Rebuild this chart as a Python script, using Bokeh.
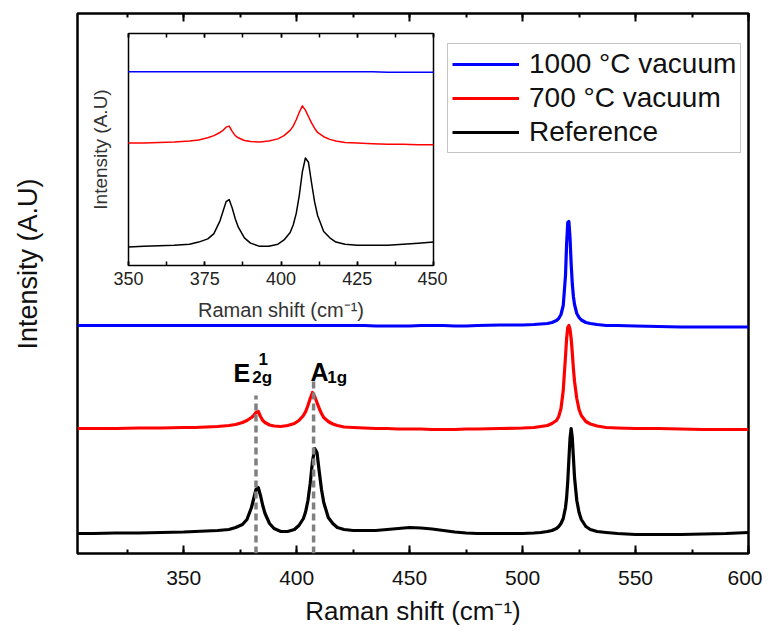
from bokeh.plotting import figure
from bokeh.models import (SingleIntervalTicker, FixedTicker, LinearAxis, Legend, LegendItem,
                          Range1d, Title, GridBox, ColumnDataSource, CustomJSTickFormatter)
from bokeh.core.properties import value
from bokeh.embed import file_html
from bokeh.resources import INLINE

FONT = "Liberation Sans"

# ---------------- data ----------------
raman_shift = [303, 310, 320, 330, 340, 350, 355, 360, 365, 370,
               373, 376, 378, 380, 381, 382, 383, 384, 385, 386,
               388, 390, 393, 396, 399, 401, 403, 404, 405, 406,
               407, 408, 409, 410, 411, 412, 414, 416, 418, 421,
               425, 430, 435, 440, 445, 450, 455, 460, 465, 470,
               475, 480, 490, 500, 505, 508, 511, 513, 515, 516,
               517, 518, 519, 519.5, 520, 520.5, 521, 521.5, 522, 522.5,
               523, 524, 525, 526, 528, 530, 533, 537, 542, 550,
               560, 570, 580, 590, 600]

reference = [0, 0, 0.5, 0.5, 1, 1.5, 2, 2.5, 3, 4,
             6, 9, 14, 26, 35, 44, 46, 38, 28, 20,
             10, 5, 2, 2, 4, 8, 15, 22, 33, 50,
             72, 85, 81, 62, 44, 31, 16, 10, 6, 4,
             3, 3, 3, 4, 5, 6, 5.5, 4.5, 3, 1.5,
             0.5, 0, 0, 0, 0.5, 1, 2, 3, 5, 7,
             10, 15, 26, 36, 52, 74, 95, 105, 96, 76,
             56, 33, 21, 14, 7, 4, 2, 1, 0, -1,
             -1, -1, -0.5, 0, 1]

vacuum_700 = [0, 0, 0, 0.5, 0.5, 1, 1, 1.5, 2, 3,
              4, 6, 8, 11, 13, 16, 17, 12, 8, 6,
              3.5, 2.5, 2, 3, 5, 8, 13, 17, 23, 30,
              36, 32, 26, 20, 15, 11, 7, 4.5, 3, 1.5,
              1, 0.5, 0, 0, -0.5, -0.5, -0.5, -1, -1, -1,
              -0.5, -0.5, 0, 0.5, 1, 2, 3, 5, 8, 12,
              20, 38, 72, 90, 101, 103, 99, 90, 76, 60,
              47, 30, 19, 13, 7, 4.5, 2.5, 1, 0.5, 0,
              0, -0.5, -1, -1, -1]

vacuum_1000 = [0, 0, 0, 0, 0, 0, 0, 0, 0, 0,
               0, 0, 0, 0, 0, 0, 0, 0, 0, 0,
               0, 0, 0, 0, 0, 0, 0, 0, 0, 0,
               0, 0, 0, 0, 0, 0, 0, 0, 0, 0,
               0, 0, -0.5, -0.5, -0.5, -0.5, 0, 0, 0, -0.5,
               -0.5, 0, 0.5, 0.5, 1, 1.5, 2, 3, 5, 7,
               11, 20, 50, 82, 103, 104, 88, 62, 42, 29,
               21, 12, 8, 5.5, 3, 2, 1, 0, 0, -0.5,
               -1, -1.5, -1.5, -1.5, -1.5]

series_names = ["1000 °C vacuum", "700 °C vacuum", "Reference"]
series_values = [vacuum_1000, vacuum_700, reference]
series_colors = ["#0000FF", "#FF0000", "#000000"]
main_offsets = [228, 125, 20]      # vertical stacking in main panel
inset_offsets = [186, 118, 20]     # vertical stacking in inset

mode_positions = [382, 407.5]      # E2g and A1g positions (cm-1)
mode_line_tops = [158, 175]

# shared border sizes (grid layout aligns the frames of both figures)
B_LEFT, B_RIGHT, B_TOP, B_BOTTOM = 77, 14, 13, 78

# ---------------- main figure ----------------
p = figure(width=762, height=631, x_range=Range1d(303, 600), y_range=Range1d(0, 540),
           output_backend="svg", toolbar_location=None,
           min_border_left=B_LEFT, min_border_right=B_RIGHT,
           min_border_top=B_TOP, min_border_bottom=B_BOTTOM)
p.xgrid.visible = False
p.ygrid.visible = False
p.outline_line_color = "black"
p.outline_line_width = 2.5
p.outline_line_alpha = 1

renderers = []
for vals, col, off in zip(series_values, series_colors, main_offsets):
    src = ColumnDataSource(dict(x=raman_shift, y=[v + off for v in vals]))
    r = p.line("x", "y", source=src, line_color=col, line_width=3.2, line_join="round")
    renderers.append(r)

p.segment(x0=mode_positions, y0=[0, 0], x1=mode_positions, y1=mode_line_tops,
          line_color="#808080", line_width=3.5, line_dash="7 4")

bold = dict(text_font=value(FONT), text_font_style="bold", text_color="black",
            text_baseline="alphabetic", text_align="left")
p.text(x=[372.0, 406.1], y=[181, 182], text=["E", "A"], text_font_size="25px", **bold)
p.text(x=[383.1], y=[195], text=["1"], text_font_size="17px", **bold)
p.text(x=[380.4, 413.6], y=[176, 176], text=["2g", "1g"], text_font_size="17px", **bold)

blank = CustomJSTickFormatter(code="return ''")

def style_x(ax, labels=True, tick_len=8, minor_len=4, size="21px"):
    ax.axis_line_color = None
    ax.major_tick_in = tick_len
    ax.major_tick_out = 0
    ax.minor_tick_in = minor_len
    ax.minor_tick_out = 0
    ax.major_tick_line_width = 2
    ax.minor_tick_line_width = 2
    ax.major_tick_line_color = "black"
    ax.minor_tick_line_color = "black"
    if labels:
        ax.major_label_text_font = FONT
        ax.major_label_text_font_size = size
        ax.major_label_text_color = "#111111"
    else:
        ax.formatter = blank
        ax.major_label_text_font_size = "1px"
        ax.major_label_standoff = 0

xa = p.xaxis[0]
xa.ticker = SingleIntervalTicker(interval=50, num_minor_ticks=2)
style_x(xa)
xa.major_label_standoff = 17
xa.axis_label = "Raman shift (cm⁻¹)"
xa.axis_label_text_font = FONT
xa.axis_label_text_font_size = "26px"
xa.axis_label_text_font_style = "normal"
xa.axis_label_text_color = "#111111"
xa.axis_label_standoff = 8

top = LinearAxis(ticker=SingleIntervalTicker(interval=50, num_minor_ticks=2))
style_x(top, labels=False)
p.add_layout(top, "above")

# left axis: one practically transparent outward tick, blank label -> reserves a gap
ya = p.yaxis[0]
ya.ticker = FixedTicker(ticks=[270])
ya.formatter = blank
ya.axis_line_color = None
ya.major_tick_line_color = "white"
ya.major_tick_line_alpha = 0.01
ya.minor_tick_line_color = None
ya.major_tick_in = 0
ya.major_tick_out = 23
ya.minor_tick_out = 0
ya.major_label_text_font_size = "1px"
ya.major_label_standoff = 0

p.add_layout(Title(text="Intensity (A.U)", text_font=FONT, text_font_size="27px",
                   text_font_style="normal", text_color="#111111", align="right",
                   vertical_align="top", offset=165, standoff=20), "left")

legend = Legend(items=[LegendItem(label=n, renderers=[r]) for n, r in zip(series_names, renderers)],
                location=(370, 400), label_text_font=FONT, label_text_font_size="28px",
                label_text_color="#111111", glyph_width=67, glyph_height=32, label_height=32,
                spacing=2, padding=4, margin=0, label_standoff=10,
                border_line_color="#8c8c8c", border_line_width=1, background_fill_color="white")
p.add_layout(legend)

# ---------------- inset ----------------
ins = figure(width=305 + B_LEFT + B_RIGHT, height=232 + B_TOP + B_BOTTOM,
             x_range=Range1d(350, 450), y_range=Range1d(4, 222),
             output_backend="svg", toolbar_location=None,
             min_border_left=B_LEFT, min_border_right=B_RIGHT,
             min_border_top=B_TOP, min_border_bottom=B_BOTTOM,
             background_fill_alpha=0, border_fill_alpha=0)
ins.margin = (20, 0, 0, 51)
ins.xgrid.visible = False
ins.ygrid.visible = False
ins.outline_line_color = "black"
ins.outline_line_width = 1.5
ins.outline_line_alpha = 1

for vals, col, off in zip(series_values, series_colors, inset_offsets):
    src = ColumnDataSource(dict(x=raman_shift, y=[v + off for v in vals]))
    ins.line("x", "y", source=src, line_color=col, line_width=1.5, line_join="round")

ix = ins.xaxis[0]
ix.ticker = SingleIntervalTicker(interval=25, num_minor_ticks=2)
style_x(ix, tick_len=4, minor_len=4, size="18px")
ix.major_tick_line_width = 1.5
ix.minor_tick_line_width = 1.5
ix.major_label_text_color = "#222222"
ix.major_label_standoff = 6
ix.axis_label = "Raman shift (cm⁻¹)"
ix.axis_label_text_font = FONT
ix.axis_label_text_font_size = "20px"
ix.axis_label_text_font_style = "normal"
ix.axis_label_text_color = "#333333"
ix.axis_label_standoff = 11

itop = LinearAxis(ticker=SingleIntervalTicker(interval=25, num_minor_ticks=2))
style_x(itop, labels=False, tick_len=4, minor_len=4)
itop.major_tick_line_width = 1.5
itop.minor_tick_line_width = 1.5
ins.add_layout(itop, "above")

iy = ins.yaxis[0]
iy.ticker = FixedTicker(ticks=[])
iy.axis_line_color = None
iy.major_tick_line_color = None
iy.minor_tick_line_color = None
iy.major_label_standoff = 0
iy.axis_label = "Intensity (A.U)"
iy.axis_label_text_font = FONT
iy.axis_label_text_font_size = "19px"
iy.axis_label_text_font_style = "normal"
iy.axis_label_text_color = "#333333"
iy.axis_label_standoff = 18

layout = GridBox(children=[(p, 0, 0), (ins, 0, 0)])

open("out.html", "w").write(file_html(layout, INLINE))
